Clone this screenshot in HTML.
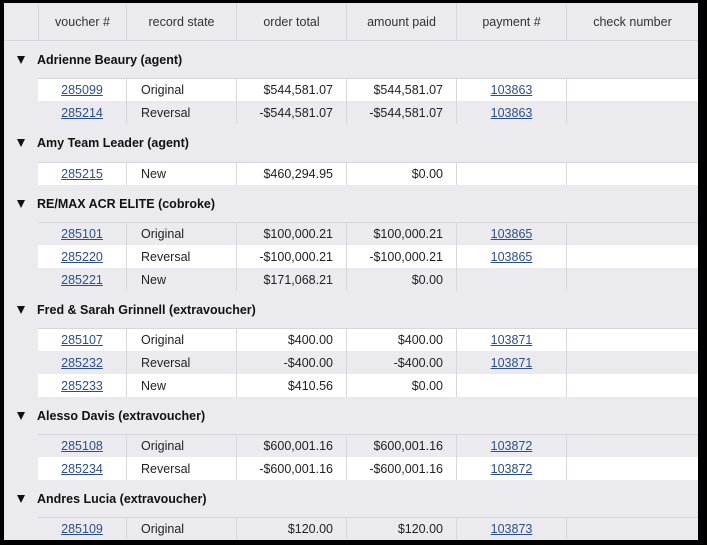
<!DOCTYPE html>
<html><head><style>
body{margin:0;width:707px;height:545px;background:#000;overflow:hidden;font-family:"Liberation Sans",sans-serif;font-size:12.5px;color:#222}
#f{position:absolute;left:4px;top:3px;width:694px;height:537px;background:#eaeaef;overflow:hidden}
.r{position:absolute;left:0;width:694px}
.c{position:absolute;top:0;height:100%;box-sizing:border-box;border-left:1px solid #d6d6dc;display:flex;align-items:center;white-space:nowrap}
.h .c{justify-content:center;color:#333}
.d{background:#fff}.g{background:#eaeaef}
.t{border-top:1px solid #d6d6dc}
a{color:#2c4f8c;text-decoration:underline}
.gh{font-weight:bold;color:#111;display:flex;align-items:center}
.tri{display:inline-block;width:0;height:0;border-left:4.5px solid transparent;border-right:4.5px solid transparent;border-top:8px solid #111;margin:0 12px 0 13px}
</style></head><body><div id="f">
<div class="r h" style="top:0;height:37px;border-bottom:1px solid #d6d6dc">
<div class="c" style="left:34px;width:88px">voucher #</div>
<div class="c" style="left:122px;width:110px">record state</div>
<div class="c" style="left:232px;width:110px">order total</div>
<div class="c" style="left:342px;width:110px">amount paid</div>
<div class="c" style="left:452px;width:110px">payment #</div>
<div class="c" style="left:562px;width:132px">check number</div>
</div>
<div id="rows"></div>
</div>
<script>
const L=[
['G',37,'Adrienne Beaury (agent)'],
['285099','Original','$544,581.07','$544,581.07','103863'],
['285214','Reversal','-$544,581.07','-$544,581.07','103863'],
['G',38,'Amy Team Leader (agent)'],
['285215','New','$460,294.95','$0.00',''],
['G',37,'RE/MAX ACR ELITE (cobroke)'],
['285101','Original','$100,000.21','$100,000.21','103865'],
['285220','Reversal','-$100,000.21','-$100,000.21','103865'],
['285221','New','$171,068.21','$0.00',''],
['G',37,'Fred &amp; Sarah Grinnell (extravoucher)'],
['285107','Original','$400.00','$400.00','103871'],
['285232','Reversal','-$400.00','-$400.00','103871'],
['285233','New','$410.56','$0.00',''],
['G',37,'Alesso Davis (extravoucher)'],
['285108','Original','$600,001.16','$600,001.16','103872'],
['285234','Reversal','-$600,001.16','-$600,001.16','103872'],
['G',37,'Andres Lucia (extravoucher)'],
['285109','Original','$120.00','$120.00','103873']];
let y=38,n=0,first=false,h='';
for(const r of L){
 if(r[0]=='G'){h+=`<div class="r gh" style="top:${y}px;height:${r[1]}px"><span class="tri"></span>${r[2]}</div>`;y+=r[1];first=true;continue;}
 const cls=(n%2==0?'d':'g')+(first?' t':'');n++;
 h+=`<div class="r ${cls}" style="top:${y}px;height:23px;left:34px;width:660px;box-sizing:border-box">
<div class="c" style="left:0;width:88px;justify-content:center;border-left:none"><a>${r[0]}</a></div>
<div class="c" style="left:88px;width:110px;padding-left:14px">${r[1]}</div>
<div class="c" style="left:198px;width:110px;justify-content:flex-end;padding-right:13px">${r[2]}</div>
<div class="c" style="left:308px;width:110px;justify-content:flex-end;padding-right:13px">${r[3]}</div>
<div class="c" style="left:418px;width:110px;justify-content:center"><a>${r[4]}</a></div>
<div class="c" style="left:528px;width:132px"></div></div>`;
 y+=23;first=false;}
document.getElementById('rows').innerHTML=h;
</script>
</body></html>
